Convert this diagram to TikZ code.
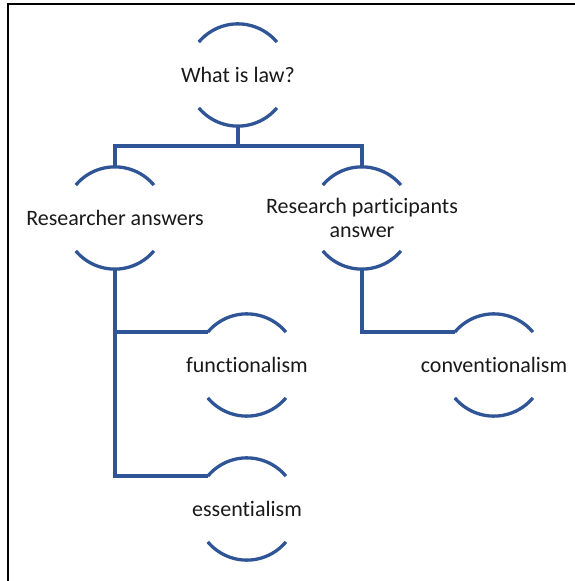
\documentclass[tikz,border=0pt]{standalone}
\usepackage{fontspec}
\setmainfont{Carlito}[Ligatures=NoCommon]
\definecolor{arcblue}{RGB}{47,85,151}
\newcommand{\zw}[1]{\makebox[0pt]{\raisebox{-7.5pt}[0pt][0pt]{#1}}}
\newcommand{\zwt}[1]{\makebox[0pt]{\raisebox{4pt}[0pt][0pt]{\begin{tabular}[t]{@{}c@{}}#1\end{tabular}}}}
\begin{document}
\begin{tikzpicture}[x=1pt,y=1pt,
  topic/.style={circle,minimum size=102pt,inner sep=0pt,font=\fontsize{22}{24}\selectfont,text=black!90},
  link/.style={draw=arcblue,line width=3.3pt}]
\useasboundingbox (0,0) rectangle (574,581);
\draw[line width=2pt] (7.5,0) -- (7.5,577) -- (575,577);
\node[topic] (law)  at (238,506) {\zw{What is law?}};
\node[topic] (res)  at (115,363) {\zw{Researcher answers}};
\node[topic] (part) at (362,363) {\zwt{Research participants\\answer}};
\node[topic] (func) at (247,216) {\zw{functionalism}};
\node[topic] (conv) at (494,216) {\zw{conventionalism}};
\node[topic] (ess)  at (247,72)  {\zw{essentialism}};
\foreach \n in {law,res,part,func,conv,ess}{
  \draw[link] (\n.140) arc[start angle=140,end angle=40,radius=51pt];
  \draw[link] (\n.220) arc[start angle=220,end angle=320,radius=51pt];
}
\coordinate (bar) at (238,435);
\draw[link] (law.south) -- (bar);
\draw[link] (res.north) |- (bar) -| (part.north);
\draw[link] (res.south) |- (func.140);
\draw[link] (res.south) |- (ess.140);
\draw[link] (part.south) |- (conv.140);
\end{tikzpicture}
\end{document}
